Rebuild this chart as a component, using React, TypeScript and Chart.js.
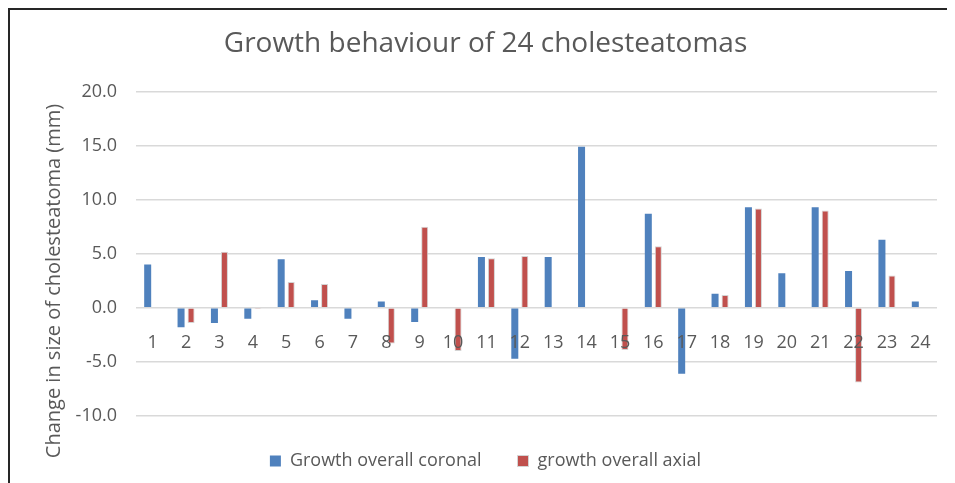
import React, { useEffect, useRef } from "react";
import { Chart, registerables } from "chart.js";

Chart.register(...registerables);

const categories = ["1","2","3","4","5","6","7","8","9","10","11","12","13","14","15","16","17","18","19","20","21","22","23","24"];
const coronal = [4.0, -1.8, -1.4, -1.0, 4.5, 0.7, -1.0, 0.6, -1.3, null, 4.7, -4.7, 4.7, 14.9, null, 8.7, -6.1, 1.3, 9.3, 3.2, 9.3, 3.4, 6.3, 0.6];
const axial = [null, -1.4, 5.2, -0.1, 2.4, 2.2, null, -3.3, 7.5, -4.0, 4.6, 4.8, null, null, -3.9, 5.7, null, 1.2, 9.2, null, 9.0, -6.9, 3.0, null];
const seriesNames = ["Growth overall coronal", "growth overall axial"];
const chartTitle = "Growth behaviour of 24 cholesteatomas";
const yAxisTitle = "Change in size of cholesteatoma (mm)";

const FONT = '"Open Sans", "DejaVu Sans", sans-serif';
const TEXT = "#595959";

const yTitlePlugin = {
  id: "yTitle",
  afterDraw(chart: any) {
    const ctx = chart.ctx;
    ctx.save();
    ctx.font = `20px ${FONT}`;
    ctx.fillStyle = TEXT;
    ctx.translate(44, 271);
    ctx.rotate(-Math.PI / 2);
    ctx.textAlign = "center";
    ctx.textBaseline = "middle";
    ctx.fillText(yAxisTitle, 0, 0);
    ctx.restore();
  },
};

export default function App() {
  const ref = useRef<HTMLCanvasElement | null>(null);
  useEffect(() => {
    if (!ref.current) return;
    const chart = new Chart(ref.current, {
      type: "bar",
      data: {
        labels: categories,
        datasets: [
          {
            label: seriesNames[0],
            data: coronal as any,
            backgroundColor: "#4F81BD",
            borderWidth: 0,
            categoryPercentage: 0.6,
            barPercentage: 0.7,
          },
          {
            label: seriesNames[1],
            data: axial as any,
            backgroundColor: "#C0504D",
            borderColor: "#d4d4d4",
            borderWidth: 1,
            categoryPercentage: 0.6,
            barPercentage: 0.7,
          },
        ],
      },
      options: {
        animation: false,
        responsive: true,
        maintainAspectRatio: false,
        layout: { padding: { top: 0, left: 24, right: 18, bottom: 3 } },
        plugins: {
          title: {
            display: true,
            text: chartTitle,
            color: TEXT,
            font: { family: FONT, size: 28, weight: "normal" },
            padding: { top: 17, bottom: 31 },
          },
          legend: {
            position: "bottom",
            labels: {
              color: TEXT,
              font: { family: FONT, size: 18 },
              boxWidth: 11,
              boxHeight: 11,
              padding: 36,
            },
          },
          tooltip: { enabled: false },
        },
        scales: {
          x: {
            position: { y: 0 } as any,
            grid: { display: false },
            border: { display: false },
            ticks: { z: 1, color: TEXT, font: { family: FONT, size: 18 }, padding: 16, maxRotation: 0, autoSkip: false },
          },
          y: {
            min: -10,
            max: 20,
            afterFit: (s: any) => { s.width = 102; },
            border: { display: false },
            grid: { color: "#d9d9d9", lineWidth: 1.5, drawTicks: false },
            ticks: {
              stepSize: 5,
              color: TEXT,
              font: { family: FONT, size: 18 },
              padding: 19,
              callback: (v: any) => Number(v).toFixed(1),
            },
          },
        },
      },
      plugins: [yTitlePlugin],
    });
    return () => chart.destroy();
  }, []);
  return (
    <div
      style={{
        width: 947,
        height: 475,
        borderTop: "2px solid #262626",
        borderLeft: "2px solid #262626",
        boxSizing: "border-box",
        position: "relative",
        background: "#fff",
      }}
    >
      <div style={{ position: "absolute", left: 0, top: 0, right: 0, bottom: 0 }}>
        <canvas ref={ref} />
      </div>
    </div>
  );
}
